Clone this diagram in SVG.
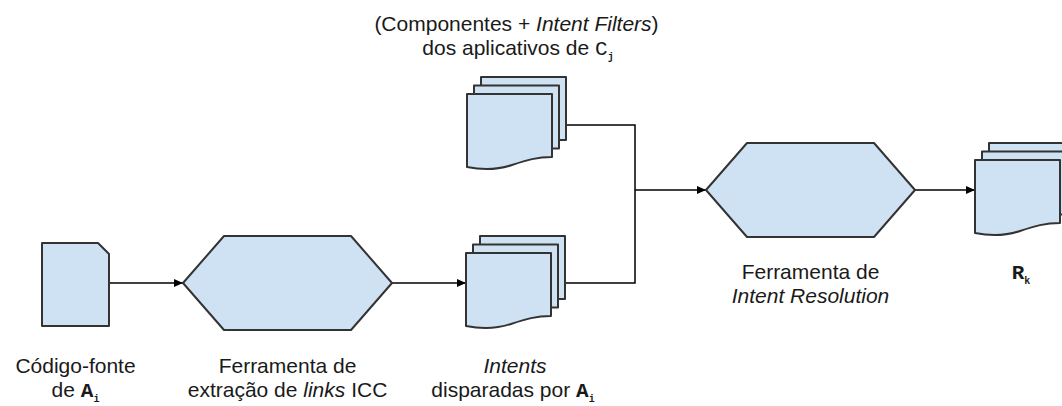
<svg xmlns="http://www.w3.org/2000/svg" width="1062" height="406" viewBox="0 0 1062 406">
  <style>
    .shape { fill: #cfe2f3; stroke: #333333; stroke-width: 2; stroke-linejoin: round; }
    .wire { fill: none; stroke: #000000; stroke-width: 1.5; }
    .lbl { font-family: "Liberation Sans", Arial, sans-serif; font-size: 21px; fill: #1a1a1a; text-anchor: middle; }
    .it { font-style: italic; }
    .var { font-family: "Liberation Mono", "Courier New", monospace; font-weight: bold; }
    .var-light { font-family: "Liberation Mono", "Courier New", monospace; }
    .sub { font-family: "Liberation Mono", "Courier New", monospace; font-weight: bold; font-size: 10px; }
  </style>
  <defs>
    <marker id="arrow" markerUnits="userSpaceOnUse" markerWidth="10" markerHeight="10" refX="9" refY="4" orient="auto">
      <path d="M0,0 L9,4 L0,8 Z" fill="#000000"/>
    </marker>
    <!-- stacked document pages, origin at the front page's top-left corner -->
    <g id="multidoc">
      <rect class="shape" x="14" y="-17" width="85" height="63"/>
      <rect class="shape" x="7" y="-8.5" width="85" height="63"/>
      <path class="shape" d="M0,0 H85 V63 C70,63 60,66 45,71 C30,76 15,76 0,73 Z"/>
    </g>
  </defs>

  <!-- connectors -->
  <g id="connectors">
    <path class="wire" d="M109,283 H183" marker-end="url(#arrow)"/>
    <path class="wire" d="M392,283 H466" marker-end="url(#arrow)"/>
    <path class="wire" d="M566,125 H635 V283 H564"/>
    <path class="wire" d="M635,190 H706" marker-end="url(#arrow)"/>
    <path class="wire" d="M915,190 H975" marker-end="url(#arrow)"/>
  </g>

  <!-- source code of A_i -->
  <g id="source-code">
    <path class="shape" d="M42,243 H98 L109,254 V326 H42 Z"/>
    <text class="lbl" x="75.5" y="373">Código-fonte</text>
    <text class="lbl" x="75.5" y="397">de <tspan class="var">A</tspan><tspan class="sub" dy="5">i</tspan></text>
  </g>

  <!-- ICC link extraction tool -->
  <g id="icc-extractor">
    <path class="shape" d="M183,283 L224,236 H351 L392,283 L351,330 H224 Z"/>
    <text class="lbl" x="287.5" y="373">Ferramenta de</text>
    <text class="lbl" x="287.5" y="397">extração de <tspan class="it">links</tspan> ICC</text>
  </g>

  <!-- intents fired by A_i -->
  <g id="intents">
    <use href="#multidoc" transform="translate(466,253)"/>
    <text class="lbl it" x="515" y="373">Intents</text>
    <text class="lbl" x="513" y="397">disparadas por <tspan class="var">A</tspan><tspan class="sub" dy="5">i</tspan></text>
  </g>

  <!-- components and intent filters of C_j apps -->
  <g id="components">
    <use href="#multidoc" transform="translate(467,94)"/>
    <text class="lbl" x="516.5" y="31">(Componentes + <tspan class="it">Intent Filters</tspan>)</text>
    <text class="lbl" x="518" y="55">dos aplicativos de <tspan class="var-light">C</tspan><tspan class="sub" dy="5">j</tspan></text>
  </g>

  <!-- intent resolution tool -->
  <g id="intent-resolution">
    <path class="shape" d="M706,190 L747,143 H874 L915,190 L874,237 H747 Z"/>
    <text class="lbl" x="810.5" y="279">Ferramenta de</text>
    <text class="lbl it" x="810.5" y="303">Intent Resolution</text>
  </g>

  <!-- results R_k -->
  <g id="results">
    <use href="#multidoc" transform="translate(975,160)"/>
    <text class="lbl" x="1021" y="279"><tspan class="var">R</tspan><tspan class="sub" dy="5">k</tspan></text>
  </g>
</svg>
